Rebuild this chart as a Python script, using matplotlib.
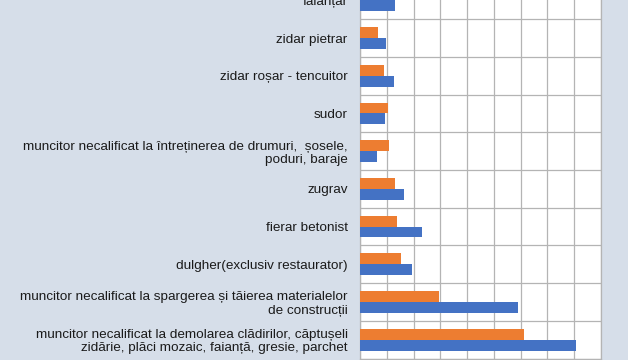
import matplotlib
matplotlib.use("Agg")
from matplotlib import pyplot as plt
import numpy as np

plt.rcParams['font.family'] = ['Liberation Sans', 'DejaVu Sans']

# categories from bottom to top
categories = [
    "muncitor necalificat la demolarea clădirilor, căptușeli\nzidărie, plăci mozaic, faianță, gresie, parchet",
    "muncitor necalificat la spargerea și tăierea materialelor\nde construcții",
    "dulgher(exclusiv restaurator)",
    "fierar betonist",
    "zugrav",
    "muncitor necalificat la întreținerea de drumuri,  șosele,\npoduri, baraje",
    "sudor",
    "zidar roșar - tencuitor",
    "zidar pietrar",
    "faianțar",
]
orange_vals = [6.12, 2.94, 1.52, 1.39, 1.31, 1.07, 1.03, 0.91, 0.69, 1.0]
blue_vals = [8.07, 5.91, 1.94, 2.33, 1.63, 0.63, 0.93, 1.27, 0.98, 1.32]

bg = '#d6dee9'
fig = plt.figure(figsize=(6.28, 3.6), dpi=100, facecolor=bg)
ax = fig.add_axes([360 / 628, 1.5 / 360, 241 / 628, 377 / 360])
ax.set_facecolor('white')

y = np.arange(len(categories))
h = 0.29
ax.barh(y + h / 2, orange_vals, height=h, color='#ed7d31', zorder=3)
ax.barh(y - h / 2, blue_vals, height=h, color='#4472c4', zorder=3)

ax.set_xlim(0, 9)
ax.set_ylim(-0.5, len(categories) - 0.5)
ax.set_xticks(np.arange(0, 10, 1))
ax.set_yticks(y)
ax.set_yticklabels(categories, fontsize=9.7, color='#1a1a1a', linespacing=1.15)
ax.set_yticks(np.arange(-0.5, len(categories), 1), minor=True)
ax.tick_params(axis='both', which='both', length=0)
ax.tick_params(axis='y', pad=9)
ax.tick_params(axis='x', labelbottom=False)
ax.grid(True, axis='x', color='#b4b4b4', linewidth=0.9, zorder=0)
ax.grid(True, axis='y', which='minor', color='#b4b4b4', linewidth=0.9, zorder=0)
for s in ax.spines.values():
    s.set_color('#b4b4b4')
    s.set_linewidth(0.9)

fig.savefig('out.png', dpi=100, facecolor=bg)
